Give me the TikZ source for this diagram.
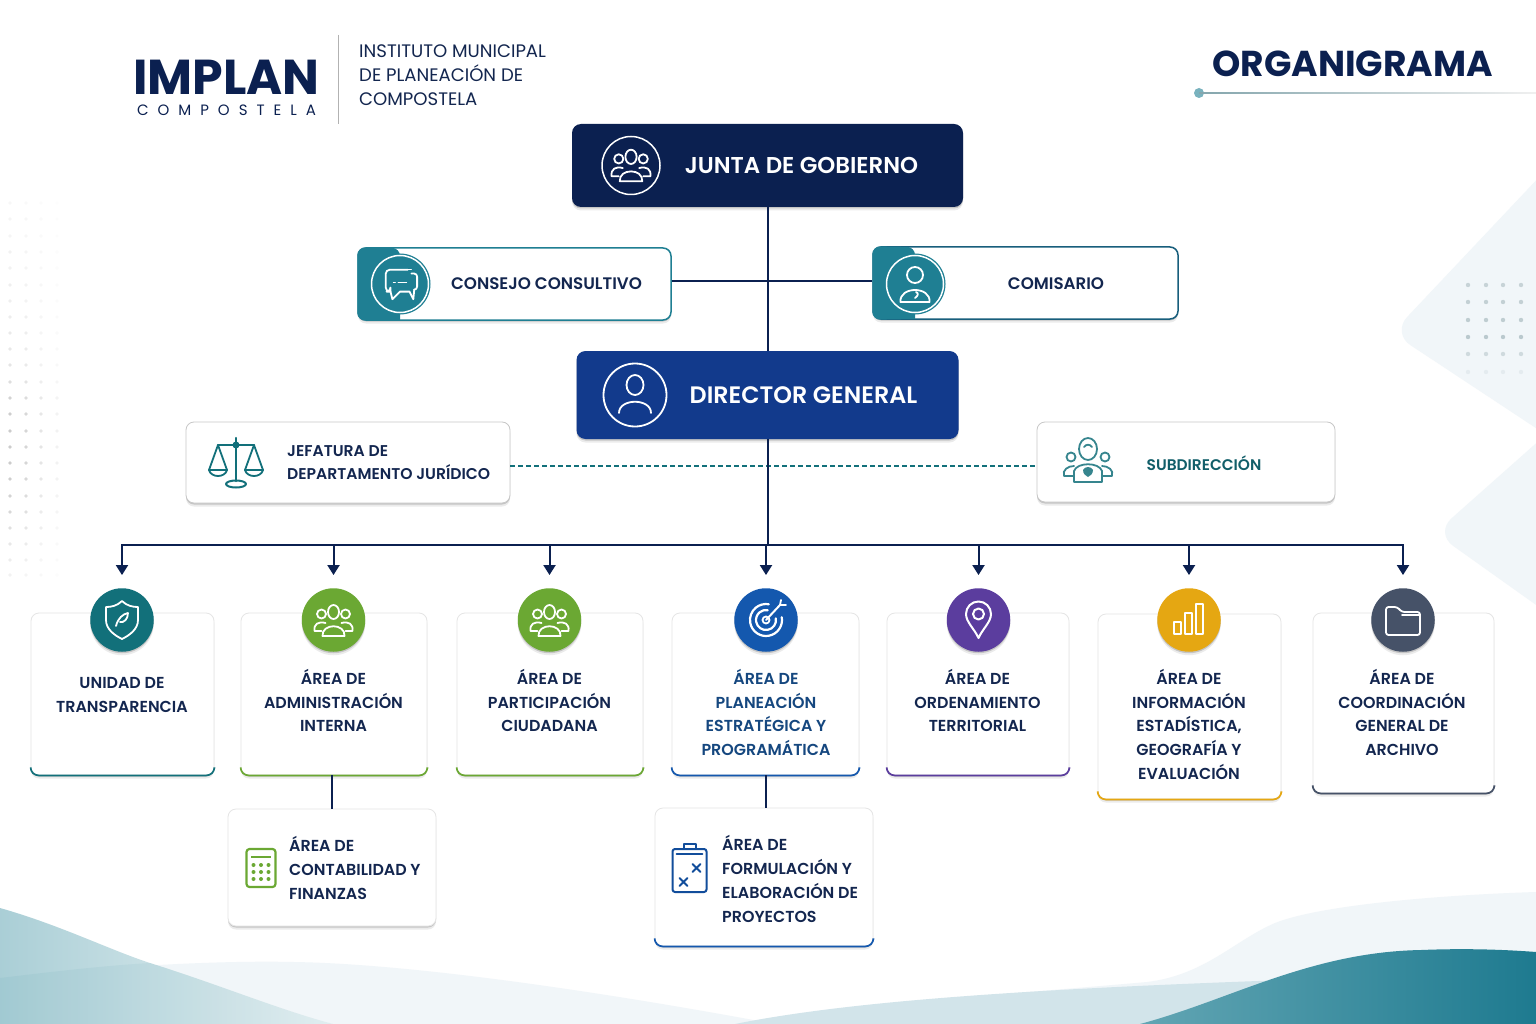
\documentclass[tikz,border=0pt]{standalone}
\usepackage{fontspec}
\usepackage{amsmath}
\setmainfont{Poppins}[UprightFont=* Medium, BoldFont=* SemiBold]
\newfontfamily\lightfont{Poppins}
\newfontfamily\spacedfont{Poppins}[LetterSpace=60]
\usetikzlibrary{arrows.meta, positioning, calc, shadows}

\definecolor{navy}{HTML}{0B2050}
\definecolor{royal}{HTML}{123A8C}
\definecolor{inktext}{HTML}{13264F}
\definecolor{tealbox}{HTML}{1F7F93}
\definecolor{tealdark}{HTML}{12707A}
\definecolor{tealtext}{HTML}{115E69}
\definecolor{leaf}{HTML}{6BA833}
\definecolor{azure}{HTML}{1458AE}
\definecolor{plum}{HTML}{5B3D9E}
\definecolor{amber}{HTML}{E5A712}
\definecolor{slate}{HTML}{465268}
\definecolor{planblue}{HTML}{15477F}
\definecolor{paleback}{HTML}{F1F6F9}

\tikzset{
    softshadow/.style={drop shadow={shadow xshift=0pt, shadow yshift=-3.5pt, opacity=.08, fill=black},
        drop shadow={shadow xshift=0pt, shadow yshift=-1.5pt, opacity=.16, fill=black}},
    card/.style={rectangle, rounded corners=8pt, fill=white, draw=black!10, line width=.8pt, inner sep=0pt, softshadow},
    headbox/.style={rectangle, rounded corners=9pt, inner sep=0pt, softshadow},
    lbl/.style={inner sep=0pt, text=inktext, align=center, font=\bfseries\fontsize{15.9}{23.8}\selectfont},
    lblleft/.style={lbl, align=left},
    badge/.style={circle, minimum size=63.5pt, inner sep=0pt, softshadow},
    ring/.style={circle, draw=white, line width=1.5pt, inner sep=0pt},
    link/.style={draw=navy, line width=2pt},
    flow/.style={link, -{Triangle[length=10pt, width=12pt]}, shorten >=13pt},
    accent/.style={line width=1.7pt, rounded corners=8pt},
    iconline/.style={line width=1.8pt, line cap=round, line join=round},
    pics/people/.style={code={
        \draw[iconline] (0,-8) ellipse (5.5 and 7);
        \draw[iconline] (-12,-6) circle (4.5) (12,-6) circle (4.5);
        \draw[iconline] (-11,16) .. controls (-12,3) and (12,3) .. (11,16) -- cycle;
        \draw[iconline] (-12,11) -- (-19,11) .. controls (-20,4) and (-15,1) .. (-8,3);
        \draw[iconline] (12,11) -- (19,11) .. controls (20,4) and (15,1) .. (8,3);
    }},
    pics/person/.style={code={
        \draw[iconline] (0,-10) ellipse (8.5 and 10);
        \draw[iconline] (-16,18) .. controls (-16,3) and (16,3) .. (16,18);
    }},
    pics/officer/.style={code={
        \draw[iconline] (0,-9) ellipse (8 and 8);
        \draw[iconline] (-14.5,18) .. controls (-16,2) and (16,2) .. (14.5,18) -- cycle;
        \draw[iconline] (1,8) .. controls (4,9) and (3,12) .. (0,14);
    }},
    pics/chat/.style={code={
        \draw[iconline, rounded corners=4pt] (8,-15) -- (-15,-15) -- (-15,8) -- (-10,8) -- (-10,8);
        \draw[iconline] (-10,8) -- (-8,16) -- (0,8) -- (10,8) -- (14,16) -- (15,6);
        \draw[iconline, rounded corners=3pt] (15,6) -- (18,6) -- (18,-11) -- (12,-11);
        \draw[iconline, line width=1.1pt] (-7,-2) -- (-5,-2) (-2,-2) -- (7,-2) (3,-15) -- (12,-15);
    }},
    pics/shield/.style={code={
        \draw[iconline] (0,-19) .. controls (5,-14) and (11,-13) .. (16,-13) -- (16,0)
            .. controls (16,9) and (8,15) .. (0,19) .. controls (-8,15) and (-16,9) .. (-16,0) -- (-16,-13)
            .. controls (-11,-13) and (-5,-14) .. cycle;
        \draw[iconline] (-6,6) .. controls (-4,-2) and (1,-6) .. (6,-7) .. controls (6,-1) and (2,3) .. (-2,2);
    }},
    pics/target/.style={code={
        \draw[iconline, line width=2.2pt] (-10:16) arc (-10:280:16);
        \draw[iconline, line width=2.2pt] (-10:10) arc (-10:280:10);
        \draw[iconline] (0,0) circle (3.5);
        \draw[iconline, line width=2pt] (0,0) -- (14,-15);
        \draw[iconline] (14,-15) -- (15,-20) (14,-15) -- (20,-15);
    }},
    pics/pin/.style={code={
        \draw[iconline, line width=2pt] (0,18) .. controls (-4,9) and (-12.5,2) .. (-12.5,-6) arc (180:360:12.5)
            .. controls (12.5,2) and (4,9) .. (0,18) -- cycle;
        \draw[iconline, line width=2pt] (0,-6) circle (5.5);
    }},
    pics/bars/.style={code={
        \draw[iconline] (-15,14) rectangle (-8,2);
        \draw[iconline] (-4,14) rectangle (3,-7);
        \draw[iconline] (7,14) rectangle (14,-16);
    }},
    pics/folder/.style={code={
        \draw[iconline, rounded corners=2.5pt] (-17,15) -- (-17,-13) -- (-6,-13) -- (-1,-8) -- (17,-8) -- (17,15) -- cycle;
        \draw[iconline] (-1,-5) -- (17,-5);
    }},
    pics/scales/.style={code={
        \draw[iconline, line width=2.2pt] (0,-25) -- (0,18);
        \draw[iconline, line width=2.2pt] (-18,-18) -- (18,-18);
        \fill (0,-18) circle (3.5);
        \draw[iconline] (-18,-18) -- (-27,7) (-18,-18) -- (-9,7) (18,-18) -- (9,7) (18,-18) -- (27,7);
        \draw[iconline] (-27,7) -- (-9,7) .. controls (-11,15) and (-25,15) .. (-27,7);
        \draw[iconline] (9,7) -- (27,7) .. controls (25,15) and (11,15) .. (9,7);
        \draw[iconline, line width=2pt] (0,21) ellipse (10 and 3.5);
    }},
    pics/staff/.style={code={
        \draw[iconline] (0,-13) ellipse (9 and 11);
        \draw[iconline] (-4,-15) .. controls (-2,-18) and (2,-18) .. (4,-15);
        \draw[iconline] (-17,-5) circle (4.5) (17,-5) circle (4.5);
        \draw[iconline] (-14,20) -- (14,20) -- (14,9) .. controls (11,0) and (-11,0) .. (-14,9) -- cycle;
        \draw[iconline] (-14,14) -- (-24,14) .. controls (-26,8) and (-20,4) .. (-14,4);
        \draw[iconline] (14,14) -- (24,14) .. controls (26,8) and (20,4) .. (14,4);
        \fill (-5,8) .. controls (-3,4) and (3,4) .. (5,8) .. controls (5,12) and (2,14) .. (0,15) .. controls (-2,14) and (-5,12) .. cycle;
    }},
    pics/calculator/.style={code={
        \draw[iconline, line width=2.2pt, rounded corners=3pt] (-14.5,-19) rectangle (14.5,19);
        \draw[line width=2pt] (-10,-11) -- (10,-11);
        \foreach \i in {-7.5,0,7.5} \foreach \j in {-3,4,11} \fill (\i,\j) circle (2);
    }},
    pics/clipboard/.style={code={
        \draw[iconline, line width=2pt, rounded corners=2.5pt] (-17,-20) -- (-17,23) -- (17,23) -- (17,-20) -- cycle;
        \draw[iconline, line width=2pt] (-8,-20) -- (-6,-20) -- (-6,-25) -- (6,-25) -- (6,-20) -- (8,-20);
        \draw[iconline] (-13,-15) -- (13,-15);
        \draw[iconline, line width=2pt] (3,-5) -- (11,3) (11,-5) -- (3,3);
        \draw[iconline, line width=2pt] (-10,9) -- (-2,17) (-2,9) -- (-10,17);
    }},
}

\begin{document}
\begin{tikzpicture}[x=1pt, y=-1pt]
    \useasboundingbox (0,0) rectangle (1536,1024);
    \fill[white] (0,0) rectangle (1536,1024);

    % background
    \fill[paleback, rounded corners=22pt] (1560,155) -- (1392,333) -- (1560,444) -- cycle;
    \fill[paleback, rounded corners=22pt] (1560,422) -- (1435,533) -- (1560,622) -- cycle;
    \foreach \i in {1468,1486,1503,1521} {
        \foreach \j/\o in {285/.5,302/.55,320/.6,337/.65,354/.4,372/.15}
            \fill[tealbox!35!gray!60, opacity=\o] (\i,\j) circle (2.2);
    }
    \foreach \i/\r in {10/1,26/.8,41/.5,57/.25} {
        \foreach \j/\o in {203/.06,219/.08,236/.08,252/.1,268/.1,285/.12,301/.12,317/.14,333/.16,349/.18,365/.2,382/.26,398/.34,414/.38,431/.4,447/.4,463/.4,479/.38,496/.34,512/.3,528/.24,544/.18,560/.14,575/.1}
            \fill[gray, opacity=\o*\r] (\i,\j) circle (1.8);
    }
    \fill[paleback] (0,978) .. controls (90,968) and (210,960) .. (294,962)
        .. controls (420,964) and (620,995) .. (775,1024) -- (0,1024) -- cycle;
    \shade[left color=tealbox!38!white, right color=tealbox!8!white]
        (0,908) .. controls (60,925) and (110,950) .. (150,963) .. controls (220,985) and (280,1010) .. (333,1024) -- (0,1024) -- cycle;
    \fill[tealbox, opacity=.06] (0,978) .. controls (50,972) and (100,966) .. (150,963) .. controls (220,985) and (280,1010) .. (333,1024) -- (0,1024) -- cycle;
    \fill[paleback] (1536,892) .. controls (1440,895) and (1320,905) .. (1275,923)
        .. controls (1235,940) and (1205,975) .. (1147,982) .. controls (1000,995) and (840,1005) .. (735,1024) -- (1536,1024) -- cycle;
    \fill[paleback!85!tealbox] (1286,980) -- (1536,1024) -- (735,1024) .. controls (840,1003) and (1000,990) .. (1286,980) -- cycle;
    \shade[left color=tealbox!70!white, right color=tealbox!95!navy]
        (1140,1024) .. controls (1230,1000) and (1310,952) .. (1421,950) .. controls (1470,948) and (1510,950) .. (1536,952) -- (1536,1024) -- cycle;

    % header
    \node[text=navy, font=\lightfont\bfseries\fontsize{49}{49}\selectfont, inner sep=0pt] (logo) at (226.5,77) {IMPLAN};
    \node[text=navy, font=\spacedfont\fontsize{15}{15}\selectfont, inner sep=0pt] (logosub) at (226.5,110) {COMPOSTELA};
    \coordinate (ruletop) at (338,35);
    \coordinate (rulebot) at (338,124);
    \draw[gray!60, line width=1pt] (ruletop) -- (rulebot);
    \node[lblleft, font=\lightfont\fontsize{18.1}{24}\selectfont, anchor=west] (instituto) at (359,75.5) {INSTITUTO MUNICIPAL\\DE PLANEACIÓN DE\\COMPOSTELA};
    \node[text=navy, font=\lightfont\bfseries\fontsize{36}{36}\selectfont, inner sep=0pt] (titulo) at (1352.5,64) {ORGANIGRAMA};
    \node[circle, fill=tealbox!60!white, inner sep=0pt, minimum size=10pt] (tdot) at (1199,93) {};
    \coordinate (tend) at (1536,93);
    \shade[left color=tealbox!50!gray!70, right color=gray!12] (tdot.center |- 0,92.3) rectangle (1536,93.7);

    % top boxes
    \node[headbox, fill=navy, minimum width=391pt, minimum height=83pt] (junta) at (767.5,165.5) {};
    \node[ring, minimum size=58pt] (icon_junta) at (631,165.5) {};
    \pic[white, scale=1.02] at (631,165) {people};
    \node[text=white, font=\bfseries\fontsize{22.9}{23}\selectfont, inner sep=0pt] (lbl_junta) at (801.5,165.5) {JUNTA DE GOBIERNO};

    \node[card, draw=tealbox, line width=1.5pt, minimum width=313pt, minimum height=72pt] (consejo) at (514.5,284) {};
    \node[card, draw=tealbox!65!navy, line width=1.5pt, minimum width=305pt, minimum height=72pt] (comisario) at (1025.5,283) {};
    \fill[tealbox, rounded corners=8pt] (400,320) -- (consejo.south west) -- (consejo.north west) -- (400,248) [sharp corners] -- cycle;
    \fill[tealbox, rounded corners=8pt] (915,319) -- (comisario.south west) -- (comisario.north west) -- (915,247) [sharp corners] -- cycle;
    \node[circle, fill=tealbox, minimum size=61pt, inner sep=0pt] (disc_consejo) at (400,284) {};
    \node[ring, minimum size=57pt] (icon_consejo) at (400,284) {};
    \pic[white, scale=.95] at (400,284) {chat};
    \node[circle, fill=tealbox, minimum size=61pt, inner sep=0pt] (disc_comisario) at (915,284) {};
    \node[ring, minimum size=57pt] (icon_comisario) at (915,284) {};
    \pic[white] at (915,284) {officer};
    \node[lbl, font=\bfseries\fontsize{16.7}{20}\selectfont] (lbl_consejo) at (546.5,284) {CONSEJO CONSULTIVO};
    \node[lbl, font=\bfseries\fontsize{16.7}{20}\selectfont] (lbl_comisario) at (1056,284) {COMISARIO};

    \node[headbox, fill=royal, minimum width=382pt, minimum height=88pt] (director) at (767.5,395) {};
    \node[ring, minimum size=63pt, line width=1.8pt] (icon_director) at (635,395) {};
    \pic[white] at (635,395) {person};
    \node[text=white, font=\bfseries\fontsize{23.8}{24}\selectfont, inner sep=0pt] (lbl_director) at (803.5,395) {DIRECTOR GENERAL};

    \node[card, draw=black!22, minimum width=324pt, minimum height=81pt] (juridico) at (348,462.5) {};
    \node[card, draw=black!22, minimum width=298pt, minimum height=80pt] (subdir) at (1186,462) {};
    \pic[tealdark] at (236,463) {scales};
    \node[lblleft, font=\bfseries\fontsize{15.6}{23}\selectfont, anchor=west] (lbl_juridico) at (287,462.5) {JEFATURA DE\\DEPARTAMENTO JURÍDICO};
    \pic[tealdark!85!white] at (1088,462) {staff};
    \node[lbl, text=tealtext, font=\bfseries\fontsize{15.4}{20}\selectfont] (lbl_subdir) at (1204,463) {SUBDIRECCIÓN};

    % area cards
    \node[card, minimum width=183pt, minimum height=162pt] (transp) at (122.5,694) {};
    \node[card, minimum width=186pt, minimum height=162pt] (admin) at (334,694) {};
    \node[card, minimum width=186pt, minimum height=162pt] (partic) at (550,694) {};
    \node[card, minimum width=187pt, minimum height=162pt] (planea) at (765.5,694) {};
    \node[card, minimum width=182pt, minimum height=162pt] (orden) at (978,694) {};
    \node[card, minimum width=183pt, minimum height=185pt] (inform) at (1189.5,706.5) {};
    \node[card, minimum width=181pt, minimum height=180pt] (archivo) at (1403.5,703) {};
    \node[card, minimum width=208pt, minimum height=117pt] (conta) at (332,867.5) {};
    \node[card, minimum width=218pt, minimum height=138pt] (formula) at (764,877) {};

    \foreach \n/\c in {transp/tealdark, admin/leaf, partic/leaf, planea/azure, orden/plum, inform/amber, archivo/slate, formula/azure}
        \draw[\c, accent] ($(\n.south west)+(0,-7)$) -- (\n.south west) -- (\n.south east) -- ($(\n.south east)+(0,-7)$);

    \node[badge, fill=tealdark] (icon_transp) at (122,620) {};
    \node[badge, fill=leaf] (icon_admin) at (333.5,620) {};
    \node[badge, fill=leaf] (icon_partic) at (549.5,620) {};
    \node[badge, fill=azure] (icon_planea) at (766,620) {};
    \node[badge, fill=plum] (icon_orden) at (978.5,620) {};
    \node[badge, fill=amber] (icon_inform) at (1189,620) {};
    \node[badge, fill=slate] (icon_archivo) at (1403,620) {};
    \pic[white] at (icon_transp) {shield};
    \pic[white] at (icon_admin) {people};
    \pic[white] at (icon_partic) {people};
    \pic[white] at (icon_planea) {target};
    \pic[white] at (icon_orden) {pin};
    \pic[white] at (icon_inform) {bars};
    \pic[white] at (icon_archivo) {folder};

    \node[lbl] (lbl_transp) [below=25pt of icon_transp] {UNIDAD DE\\TRANSPARENCIA};
    \node[lbl] (lbl_admin) [below=17pt of icon_admin] {ÁREA DE\\ADMINISTRACIÓN\\INTERNA};
    \node[lbl] (lbl_partic) [below=17pt of icon_partic] {ÁREA DE\\PARTICIPACIÓN\\CIUDADANA};
    \node[lbl, text=planblue] (lbl_planea) [below=17pt of icon_planea] {ÁREA DE\\PLANEACIÓN\\ESTRATÉGICA Y\\PROGRAMÁTICA};
    \node[lbl, xshift=-1pt] (lbl_orden) [below=17pt of icon_orden] {ÁREA DE\\ORDENAMIENTO\\TERRITORIAL};
    \node[lbl] (lbl_inform) [below=17pt of icon_inform] {ÁREA DE\\INFORMACIÓN\\ESTADÍSTICA,\\GEOGRAFÍA Y\\EVALUACIÓN};
    \node[lbl, xshift=-1pt] (lbl_archivo) [below=17pt of icon_archivo] {ÁREA DE\\COORDINACIÓN\\GENERAL DE\\ARCHIVO};

    \pic[leaf] at (261,868) {calculator};
    \node[lblleft, anchor=west] (lbl_conta) at (289,868) {ÁREA DE\\CONTABILIDAD Y\\FINANZAS};
    \pic[azure!80!navy] at (689.5,869) {clipboard};
    \node[lblleft, anchor=west] (lbl_formula) at (722,879) {ÁREA DE\\FORMULACIÓN Y\\ELABORACIÓN DE\\PROYECTOS};

    % connectors
    \coordinate (cross) at (767.5,281);
    \coordinate (dashline) at (767.5,466);
    \coordinate (bus) at (767.5,545);
    \draw[link] (junta.south) -- (director.north);
    \draw[link] (consejo.east |- cross) -- (comisario.west |- cross);
    \draw[tealdark, line width=1.1pt, dash pattern=on 5pt off 3pt] (juridico.east |- dashline) -- (subdir.west |- dashline);
    \draw[link] (director.south) -- (bus);
    \foreach \n in {transp, admin, partic, planea, orden, inform, archivo}
        \draw[flow] (bus) -| (icon_\n.north);
    \draw[link] (admin.south -| conta.north) -- (conta.north);
    \draw[link] (planea.south) -- (planea.south |- formula.north);
\end{tikzpicture}
\end{document}
